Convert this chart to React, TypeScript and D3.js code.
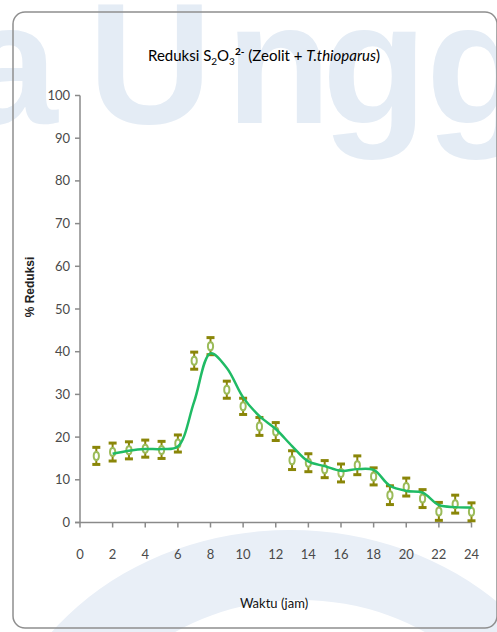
import React from 'react';
import * as d3 from 'd3';

// hours and % reduction
const hours = [1, 2, 3, 4, 5, 6, 7, 8, 9, 10, 11, 12, 13, 14, 15, 16, 17, 18, 19, 20, 21, 22, 23, 24];
const reduksi = [15.6, 16.5, 16.9, 17.3, 17.0, 18.5, 37.9, 41.3, 31.1, 27.2, 22.5, 21.3, 14.6, 14.0, 12.5, 11.6, 13.4, 10.8, 6.4, 8.3, 5.6, 2.6, 4.3, 2.5];
const errBar = [2.0, 2.1, 2.0, 2.0, 2.0, 2.0, 2.0, 2.0, 2.0, 1.9, 2.1, 2.1, 2.2, 2.1, 2.0, 2.1, 2.2, 2.0, 2.2, 2.1, 2.1, 2.1, 2.1, 2.1];

// trend line (2 period moving average as drawn)
const trendHours = [2, 3, 4, 5, 6, 7, 8, 9, 10, 11, 12, 13, 14, 15, 16, 17, 18, 19, 20, 21, 22, 23, 24];
const trendValues = [16.1, 16.8, 17.2, 17.2, 17.8, 28.3, 39.6, 36.2, 29.3, 24.9, 21.9, 17.9, 14.3, 13.2, 12.1, 12.5, 12.3, 8.6, 7.4, 7.0, 4.1, 3.6, 3.5];

const yTicks = [0, 10, 20, 30, 40, 50, 60, 70, 80, 90, 100];
const xTicks = [0, 2, 4, 6, 8, 10, 12, 14, 16, 18, 20, 22, 24];

const W = 497;
const H = 632;
const font = 'Lato, "Open Sans", sans-serif';

// ellipse helper for the background ring
const ellipse = (cx: number, cy: number, rx: number, ry: number) =>
  `M ${cx - rx} ${cy} A ${rx} ${ry} 0 1 0 ${cx + rx} ${cy} A ${rx} ${ry} 0 1 0 ${cx - rx} ${cy} Z`;

const App = () => {
  const x = d3.scaleLinear().domain([0, 24]).range([80, 471.5]);
  const y = d3.scaleLinear().domain([0, 100]).range([522.5, 95.5]);

  const points = hours.map((h, i) => ({ h, v: reduksi[i], e: errBar[i] }));
  const trend = trendHours.map((h, i) => [h, trendValues[i]] as [number, number]);

  const line = d3.line<[number, number]>()
    .x(d => x(d[0]))
    .y(d => y(d[1]))
    .curve(d3.curveCatmullRom.alpha(0.5));

  const axisColor = '#8a8a8a';
  const tickText = '#4a4a4a';
  const barColor = '#8a8608';

  return (
    <div style={{ position: 'fixed', left: 0, top: 0 }}>
      <svg width={W} height={H} style={{ display: 'block', background: '#fff' }}>
        {/* watermark */}
        <g fill="#e4ecf5" fontFamily='"Liberation Sans", Arial, sans-serif' fontWeight="bold" fontSize={172}>
          <text x={-38} y={123}>a</text>
          <text x={88} y={123}>U</text>
          <text x={226} y={123}>n</text>
          <text x={322} y={123}>g</text>
          <text x={426} y={123}>g</text>
        </g>
        <path
          d={ellipse(290, 790, 300, 260) + ' ' + ellipse(300, 800, 230, 200)}
          fill="#e9eff7"
          fillRule="evenodd"
        />

        {/* frame */}
        <rect x={13} y={12} width={484} height={616} rx={12} fill="none" stroke="#8f8f8f" strokeWidth={1.5} />

        {/* title */}
        <text x={264} y={61} textAnchor="middle" fontFamily={font} fontSize={15} fill="#000">
          Reduksi S<tspan fontSize={10} dy={4}>2</tspan>
          <tspan dy={-4}>O</tspan>
          <tspan fontSize={10} dy={4}>3</tspan>
          <tspan fontSize={10} fontWeight="bold" dy={-10}>2-</tspan>
          <tspan dy={6}> (Zeolit + </tspan>
          <tspan fontStyle="italic">T.thioparus</tspan>
          <tspan>)</tspan>
        </text>

        {/* y axis */}
        <line x1={x(0)} x2={x(0)} y1={y(100)} y2={y(0)} stroke={axisColor} strokeWidth={1.5} />
        {yTicks.map(t => (
          <g key={'y' + t}>
            <line x1={x(0) - 5} x2={x(0)} y1={y(t)} y2={y(t)} stroke={axisColor} strokeWidth={1.5} />
            <text x={70} y={y(t)} dy="0.35em" textAnchor="end" fontFamily={font} fontSize={13} fill={tickText}>
              {t}
            </text>
          </g>
        ))}

        {/* x axis */}
        <line x1={x(0) - 5} x2={x(24)} y1={y(0)} y2={y(0)} stroke={axisColor} strokeWidth={1.5} />
        {xTicks.map(t => (
          <g key={'x' + t}>
            <line x1={x(t)} x2={x(t)} y1={y(0)} y2={y(0) + 5} stroke={axisColor} strokeWidth={1.5} />
            <text x={x(t)} y={559} textAnchor="middle" fontFamily={font} fontSize={13} fill={tickText}>
              {t}
            </text>
          </g>
        ))}

        {/* axis titles */}
        <text
          transform={`translate(34,287) rotate(-90)`}
          textAnchor="middle"
          fontFamily='"Liberation Sans", Arial, sans-serif'
          fontWeight="bold"
          fontSize={12}
          fill="#222"
        >
          % Reduksi
        </text>
        <text x={274} y={608} textAnchor="middle" fontFamily={font} fontSize={13} fill="#111">
          Waktu (jam)
        </text>

        {/* error bars */}
        {points.map(p => (
          <g key={'e' + p.h} stroke={barColor}>
            <line x1={x(p.h)} x2={x(p.h)} y1={y(p.v + p.e)} y2={y(p.v - p.e)} strokeWidth={2} />
            <line x1={x(p.h) - 4} x2={x(p.h) + 4} y1={y(p.v + p.e)} y2={y(p.v + p.e)} strokeWidth={3} />
            <line x1={x(p.h) - 4} x2={x(p.h) + 4} y1={y(p.v - p.e)} y2={y(p.v - p.e)} strokeWidth={3} />
          </g>
        ))}

        {/* markers */}
        {points.map(p => (
          <ellipse
            key={'m' + p.h}
            cx={x(p.h)}
            cy={y(p.v)}
            rx={2.6}
            ry={4}
            fill="#fff"
            stroke="#9bbb59"
            strokeWidth={2}
          />
        ))}

        {/* trend line */}
        <path d={line(trend) || ''} fill="none" stroke="#20bb65" strokeWidth={2.5} />
      </svg>
    </div>
  );
};

export default App;
